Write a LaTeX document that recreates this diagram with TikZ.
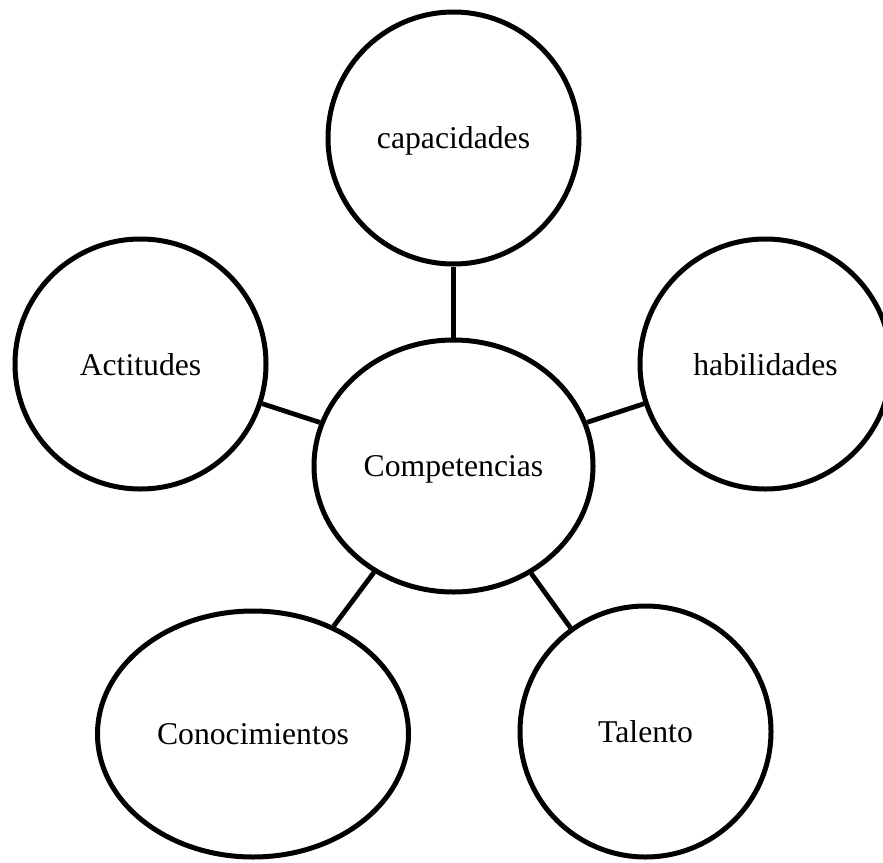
\documentclass[tikz,border=0pt]{standalone}
\usepackage{fontspec}
\setmainfont{Liberation Serif}
\usetikzlibrary{shapes.geometric}
\begin{document}
\begin{tikzpicture}[x=1pt,y=-1pt,
  bubble/.style={ellipse, draw=black, line width=5pt, fill=white, inner sep=0pt,
    text depth=0pt, font=\fontsize{31.7}{38}\selectfont},
  link/.style={draw=black, line width=4.8pt}]
  \useasboundingbox (0,0) rectangle (883,862);
  \clip (0,0) rectangle (883,862);
  \node[bubble, minimum width=251pt, minimum height=252pt] (cap)  at (453.5,138) {capacidades};
  \node[bubble, minimum width=251pt, minimum height=250pt] (act)  at (140.5,364) {Actitudes};
  \node[bubble, minimum width=251pt, minimum height=250pt] (hab)  at (765.5,364) {habilidades};
  \node[bubble, minimum width=279pt, minimum height=252pt] (comp) at (453.5,466) {Competencias};
  \node[bubble, minimum width=311pt, minimum height=246pt] (con)  at (253,734) {Conocimientos};
  \node[bubble, minimum width=251pt, minimum height=251pt] (tal)  at (645.5,731.5) {Talento};
  \draw[link] (comp) -- (cap);
  \draw[link] (comp) -- (act);
  \draw[link] (comp) -- (hab);
  \draw[link] (comp) -- (con);
  \draw[link] (comp) -- (tal);
\end{tikzpicture}
\end{document}
